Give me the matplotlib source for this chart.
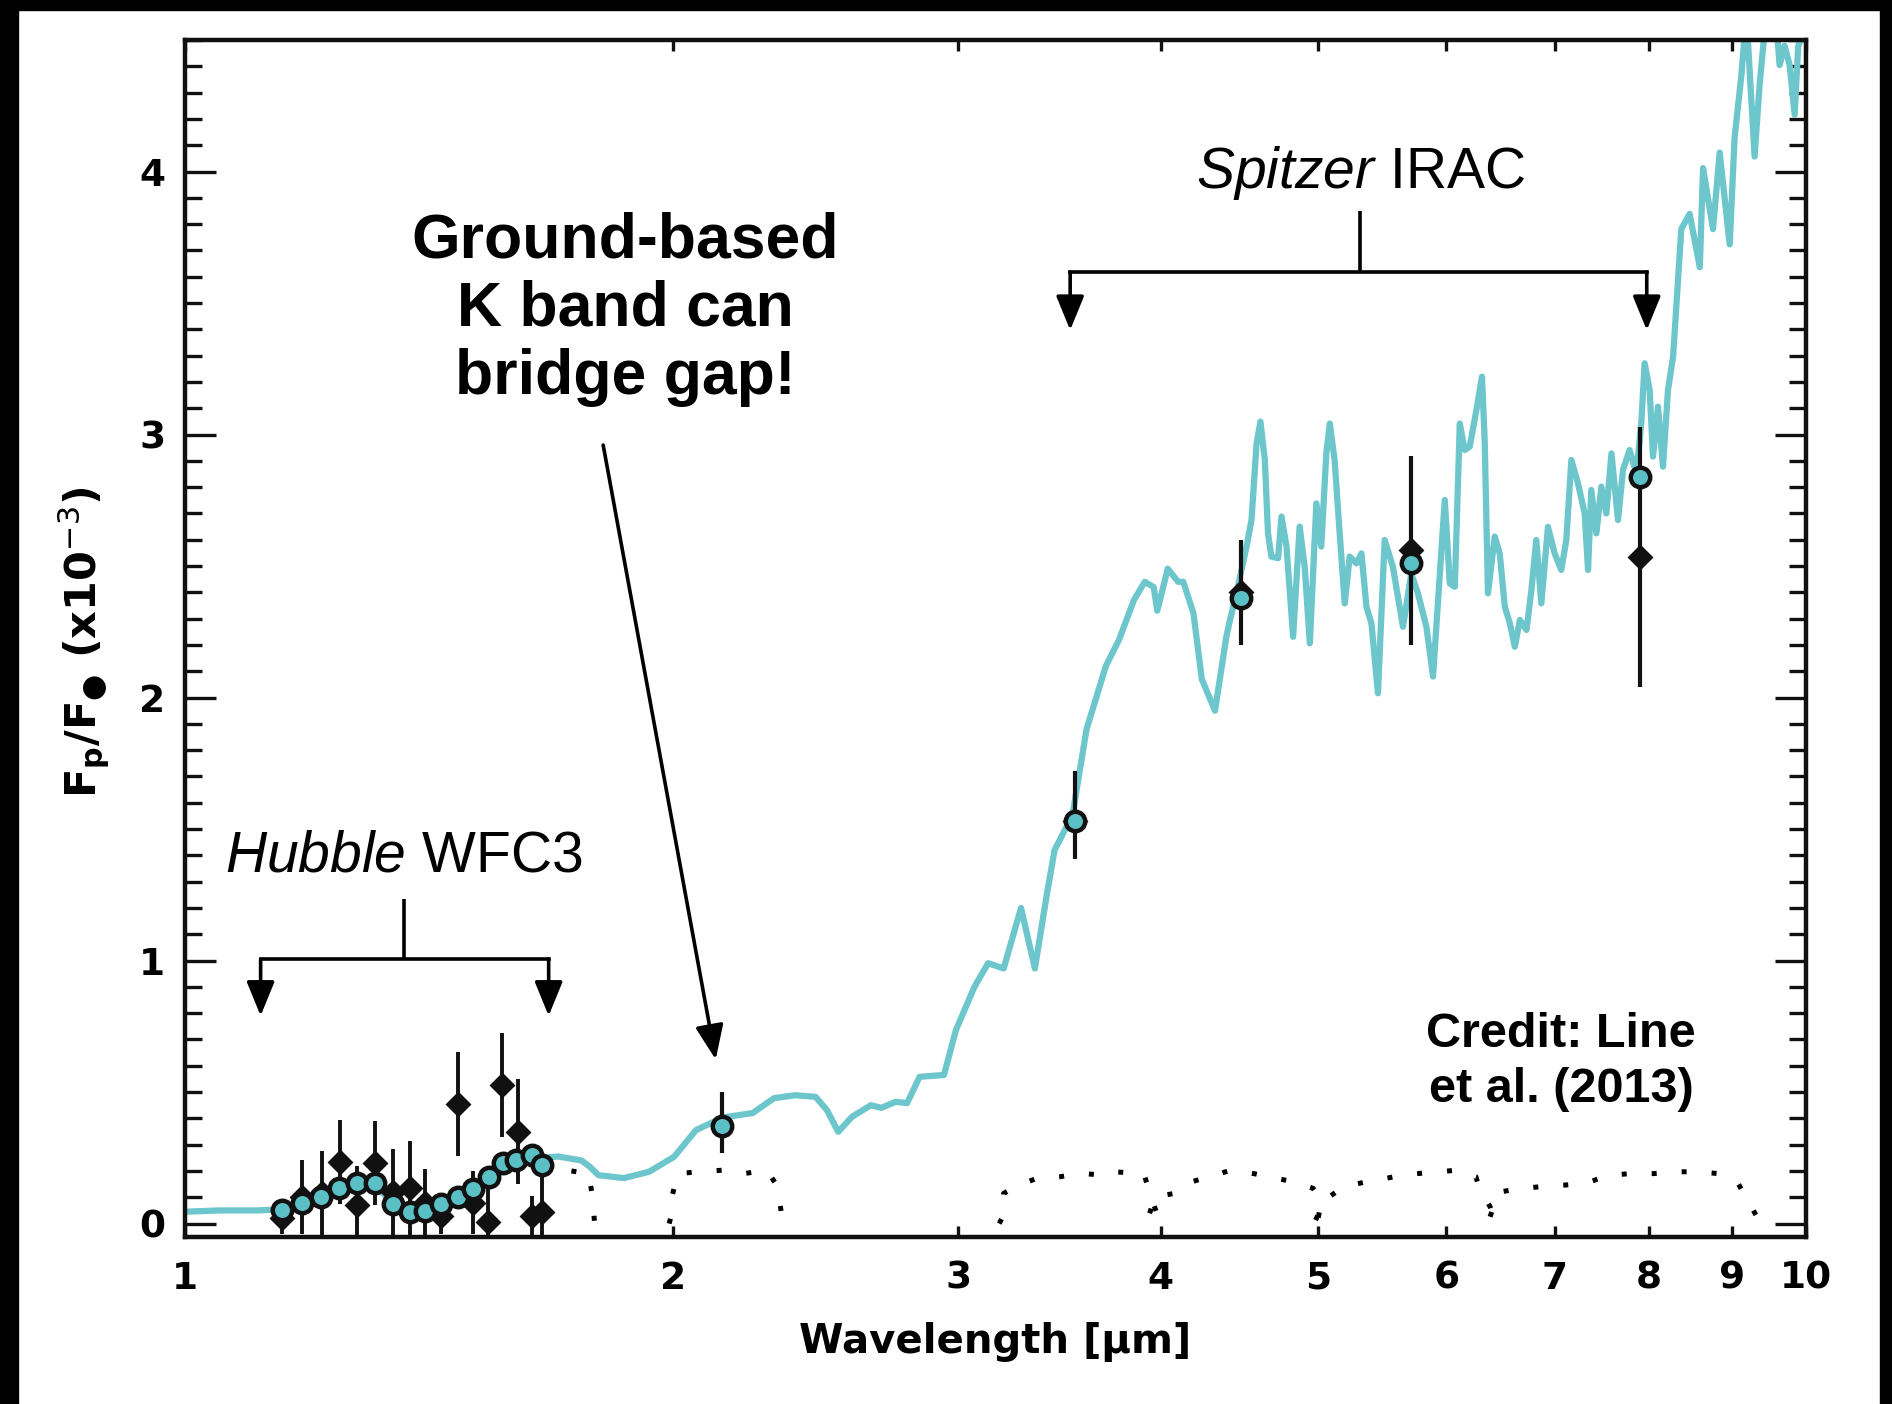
import numpy as np
import matplotlib
matplotlib.use('Agg')
import matplotlib.pyplot as plt
from matplotlib.patches import Rectangle
from matplotlib.ticker import MultipleLocator, NullLocator

plt.rcParams.update({
    'font.family': 'DejaVu Sans',
    'mathtext.fontset': 'custom',
    'mathtext.rm': 'Liberation Sans',
    'mathtext.it': 'Liberation Sans:italic',
    'mathtext.bf': 'Liberation Sans:bold',
})

# model emission spectrum (wavelength in micron, Fp/F* in 1e-3)
model_wl = [1.00, 1.05, 1.11, 1.148, 1.181, 1.214, 1.246, 1.278, 1.310, 1.344,
            1.377, 1.406, 1.440, 1.475, 1.507, 1.541, 1.571, 1.602, 1.637, 1.661,
            1.700, 1.757, 1.778, 1.800, 1.866, 1.934, 2.004, 2.067, 2.120, 2.160,
            2.240, 2.310, 2.380, 2.450, 2.490, 2.530, 2.580, 2.650, 2.690, 2.745,
            2.790, 2.840, 2.940, 2.990, 3.070, 3.130, 3.200, 3.280, 3.345, 3.400,
            3.440, 3.500, 3.530, 3.600, 3.700, 3.770, 3.850, 3.910, 3.960, 3.980,
            4.040, 4.100, 4.130, 4.190, 4.240, 4.320, 4.390, 4.413, 4.454, 4.518,
            4.550, 4.583, 4.608, 4.637, 4.658, 4.680, 4.725, 4.748, 4.782, 4.827,
            4.872, 4.907, 4.943, 4.989, 5.024, 5.060, 5.085, 5.120, 5.157, 5.194,
            5.231, 5.281, 5.319, 5.357, 5.395, 5.445, 5.497, 5.562, 5.642, 5.709,
            5.763, 5.833, 5.888, 5.944, 5.987, 6.030, 6.073, 6.116, 6.159, 6.203,
            6.262, 6.312, 6.336, 6.366, 6.427, 6.473, 6.520, 6.567, 6.613, 6.661,
            6.724, 6.771, 6.818, 6.867, 6.932, 6.998, 7.064, 7.115, 7.166, 7.234,
            7.303, 7.338, 7.372, 7.425, 7.478, 7.531, 7.586, 7.657, 7.711, 7.784,
            7.859, 7.914, 7.952, 8.009, 8.047, 8.104, 8.162, 8.220, 8.280, 8.377,
            8.477, 8.600, 8.640, 8.763, 8.846, 8.973, 9.036, 9.122, 9.188, 9.296,
            9.363, 9.452, 9.550, 9.632, 9.700, 9.770, 9.840, 9.890, 10.00]
model_fp = [0.045, 0.050, 0.050, 0.055, 0.077, 0.102, 0.134, 0.153, 0.150, 0.074,
            0.045, 0.046, 0.074, 0.102, 0.131, 0.178, 0.229, 0.241, 0.260, 0.250,
            0.255, 0.240, 0.216, 0.184, 0.173, 0.197, 0.254, 0.355, 0.387, 0.406,
            0.420, 0.477, 0.488, 0.482, 0.431, 0.349, 0.406, 0.450, 0.440, 0.463,
            0.458, 0.558, 0.565, 0.735, 0.900, 0.990, 0.970, 1.200, 0.970, 1.240,
            1.420, 1.510, 1.560, 1.880, 2.120, 2.220, 2.370, 2.440, 2.420, 2.330,
            2.490, 2.440, 2.440, 2.320, 2.070, 1.950, 2.230, 2.295, 2.396, 2.574,
            2.675, 2.966, 3.049, 2.903, 2.624, 2.536, 2.530, 2.688, 2.574, 2.231,
            2.650, 2.497, 2.206, 2.738, 2.574, 2.928, 3.042, 2.903, 2.624, 2.358,
            2.536, 2.510, 2.548, 2.345, 2.282, 2.016, 2.599, 2.497, 2.269, 2.472,
            2.396, 2.269, 2.080, 2.460, 2.751, 2.434, 2.421, 3.042, 2.941, 2.954,
            3.093, 3.220, 2.979, 2.396, 2.612, 2.548, 2.345, 2.282, 2.193, 2.295,
            2.257, 2.409, 2.599, 2.358, 2.649, 2.548, 2.485, 2.599, 2.903, 2.814,
            2.700, 2.485, 2.789, 2.624, 2.802, 2.700, 2.928, 2.675, 2.865, 2.941,
            2.852, 3.042, 3.271, 3.169, 2.916, 3.106, 2.878, 3.169, 3.296, 3.781,
            3.839, 3.636, 4.013, 3.781, 4.072, 3.723, 4.130, 4.362, 4.600, 4.057,
            4.333, 4.600, 4.700, 4.405, 4.478, 4.405, 4.216, 4.478, 4.550]

# binned model / WFC3 points (cyan circles)
wfc3_wl = [1.148, 1.181, 1.214, 1.246, 1.278, 1.310, 1.344, 1.377, 1.406,
           1.440, 1.475, 1.507, 1.541, 1.571, 1.602, 1.637, 1.661]
wfc3_fp = [0.051, 0.077, 0.102, 0.134, 0.153, 0.153, 0.074, 0.045, 0.046,
           0.074, 0.102, 0.131, 0.178, 0.229, 0.241, 0.260, 0.222]

# WFC3 measurements (black diamonds)
obs_wl = [1.148, 1.182, 1.215, 1.247, 1.278, 1.310, 1.344, 1.377, 1.406,
          1.440, 1.475, 1.507, 1.539, 1.569, 1.606, 1.637, 1.661]
obs_fp = [0.020, 0.100, 0.115, 0.235, 0.070, 0.229, 0.120, 0.134, 0.080,
          0.030, 0.454, 0.080, 0.007, 0.527, 0.349, 0.030, 0.045]
obs_err = [0.060, 0.140, 0.160, 0.160, 0.150, 0.160, 0.165, 0.180, 0.127,
           0.070, 0.197, 0.120, 0.160, 0.197, 0.200, 0.076, 0.160]

# ground-based K band point
kband_wl = [2.146]
kband_fp = [0.370]
kband_lo = [0.100]
kband_hi = [0.130]

# Spitzer IRAC points
irac_wl = [3.54, 4.485, 5.71, 7.895]
irac_model = [1.53, 2.377, 2.51, 2.84]
irac_fp = [1.53, 2.40, 2.56, 2.535]
irac_lo = [0.145, 0.20, 0.36, 0.495]
irac_hi = [0.190, 0.20, 0.36, 0.495]

# filter response curves (dotted)
wfc3_filt_wl = [1.66, 1.72, 1.775, 1.785, 1.79]
wfc3_filt_tr = [0.200, 0.203, 0.190, 0.100, 0.000]
k_filt_wl = [1.990, 1.994, 1.999, 2.014, 2.077, 2.146, 2.213, 2.286, 2.322, 2.333, 2.345]
k_filt_tr = [0.000, 0.020, 0.108, 0.190, 0.197, 0.203, 0.190, 0.203, 0.140, 0.045, 0.000]
ch1_wl = [3.18, 3.196, 3.20, 3.27, 3.354, 3.466, 3.573, 3.685, 3.739, 3.906, 3.937, 3.985, 4.00]
ch1_tr = [0.000, 0.026, 0.115, 0.146, 0.172, 0.178, 0.191, 0.184, 0.197, 0.190, 0.115, 0.026, 0.000]
ch2_wl = [3.937, 3.968, 4.081, 4.18, 4.42, 4.564, 4.714, 4.829, 4.966, 5.025, 5.004, 4.984]
ch2_tr = [0.039, 0.102, 0.115, 0.159, 0.203, 0.190, 0.172, 0.159, 0.134, 0.089, 0.026, 0.000]
ch3_wl = [4.984, 5.045, 5.188, 5.356, 5.575, 5.755, 5.942, 6.086, 6.258, 6.284, 6.385, 6.41]
ch3_tr = [0.013, 0.089, 0.140, 0.159, 0.178, 0.190, 0.197, 0.203, 0.178, 0.140, 0.064, 0.026]
ch4_wl = [6.385, 6.436, 6.487, 6.672, 6.861, 7.085, 7.315, 7.553, 7.80, 8.054, 8.316,
          8.586, 8.83, 9.08, 9.228, 9.377]
ch4_tr = [0.026, 0.089, 0.121, 0.134, 0.140, 0.146, 0.153, 0.184, 0.190, 0.190, 0.197,
          0.197, 0.190, 0.153, 0.077, 0.000]

xticks = [1, 2, 3, 4, 5, 6, 7, 8, 9, 10]

CYAN_LINE = '#6cc6cc'
CYAN_PT = '#5bbfc6'
INK = '#111111'

W, H = 1892, 1404
fig = plt.figure(figsize=(W / 100, H / 100), dpi=100, facecolor='white')
ax = fig.add_axes([184.6 / W, 1 - 1237 / H, (1806 - 184.6) / W, (1237 - 40) / H])

# black frame of the slide
for r in [(0, 0, 18 / W, 1), (0, 1 - 10 / H, 1, 10 / H), (1880 / W, 0, 12 / W, 1)]:
    fig.add_artist(Rectangle(r[:2], r[2], r[3], transform=fig.transFigure,
                             color='black', zorder=10))

dots = dict(color='black', lw=3.6, ls=(0, (1, 5)), zorder=1)
for fw, ft in [(wfc3_filt_wl, wfc3_filt_tr), (k_filt_wl, k_filt_tr), (ch1_wl, ch1_tr),
               (ch2_wl, ch2_tr), (ch3_wl, ch3_tr), (ch4_wl, ch4_tr)]:
    ax.plot(fw, ft, **dots)

ax.plot(model_wl, model_fp, color=CYAN_LINE, lw=4.5, zorder=2, solid_joinstyle='round')

ax.errorbar(obs_wl, obs_fp, yerr=obs_err, fmt='D', ms=11, mfc=INK, mec=INK,
            mew=2, ecolor=INK, elinewidth=2.8, capsize=0, zorder=3)
ax.errorbar(irac_wl, irac_fp, yerr=[irac_lo, irac_hi], fmt='D', ms=11, mfc=INK,
            mec=INK, mew=2, ecolor=INK, elinewidth=3, capsize=0, zorder=3)
ax.errorbar(kband_wl, kband_fp, yerr=[kband_lo, kband_hi], fmt='none',
            ecolor=INK, elinewidth=3, capsize=0, zorder=3)
pt = dict(ms=14, mfc=CYAN_PT, mec=INK, mew=3.2, zorder=4, ls='none', marker='o')
ax.plot(wfc3_wl, wfc3_fp, **pt)
ax.plot(kband_wl, kband_fp, **pt)
ax.plot(irac_wl, irac_model, **pt)

ax.set_xscale('log')
ax.set_xlim(1, 10)
ax.set_ylim(-0.051, 4.50)
ax.set_xticks(xticks, labels=[str(t) for t in xticks])
ax.xaxis.set_minor_locator(NullLocator())
ax.yaxis.set_major_locator(MultipleLocator(1))
ax.yaxis.set_minor_locator(MultipleLocator(0.1))
ax.tick_params(which='both', direction='in', top=True, right=True, width=2.4,
               color=INK, labelsize=27)
ax.tick_params(axis='x', which='major', length=8, pad=17)
ax.tick_params(axis='y', which='major', length=22, pad=14)
ax.tick_params(axis='y', which='minor', length=12)
for lab in ax.get_xticklabels() + ax.get_yticklabels():
    lab.set_fontweight('bold')
for s in ax.spines.values():
    s.set_linewidth(3.2)
    s.set_color(INK)

ax.set_xlabel('Wavelength [μm]', fontsize=29, fontweight='bold')
ax.xaxis.set_label_coords(0.5, -0.088)
ax.xaxis.label.set_va('center')
ax.set_ylabel('F$_{\\mathbf{p}}$/F$_{\u25cf}$ (x10$^{-3}$)', fontsize=31,
              fontweight='bold', math_fontfamily='dejavusans')
ax.yaxis.set_label_coords(-0.062, 0.497)
ax.yaxis.label.set_va('center')

# annotations
arrow = dict(arrowstyle='-|>,head_length=1.05,head_width=0.43', mutation_scale=20,
             lw=2.6, color='black', shrinkA=0, shrinkB=0)
ax.annotate('', xy=(2.126, 0.624), xytext=(1.812, 2.96), arrowprops=arrow)
ax.text(1.869, 3.477, 'Ground-based\nK band can\nbridge gap!', family='Liberation Sans',
        fontsize=45, fontweight='bold', ha='center', va='center', linespacing=1.2)


def bracket(x0, x1, xc, ybar, ytop, ytip):
    ax.plot([x0, x1], [ybar, ybar], color='black', lw=2.6, solid_capstyle='projecting')
    ax.plot([xc, xc], [ybar, ytop], color='black', lw=2.6, solid_capstyle='butt')
    for xe in (x0, x1):
        ax.annotate('', xy=(xe, ytip), xytext=(xe, ybar), arrowprops=arrow)


bracket(1.114, 1.677, 1.366, 1.005, 1.234, 0.79)
bracket(3.517, 7.976, 5.306, 3.618, 3.85, 3.397)
ax.text(1.366, 1.394, r'$\it{Hubble}$ WFC3', family='Liberation Sans', fontsize=41,
        ha='center', va='center')
ax.text(5.31, 3.996, r'$\it{Spitzer}$ IRAC', family='Liberation Sans', fontsize=41,
        ha='center', va='center')
ax.text(7.063, 0.614, 'Credit: Line\net al. (2013)', family='Liberation Sans',
        fontsize=35, fontweight='bold', ha='center', va='center', linespacing=1.3)

fig.savefig('out.png', dpi=100, facecolor='white')
